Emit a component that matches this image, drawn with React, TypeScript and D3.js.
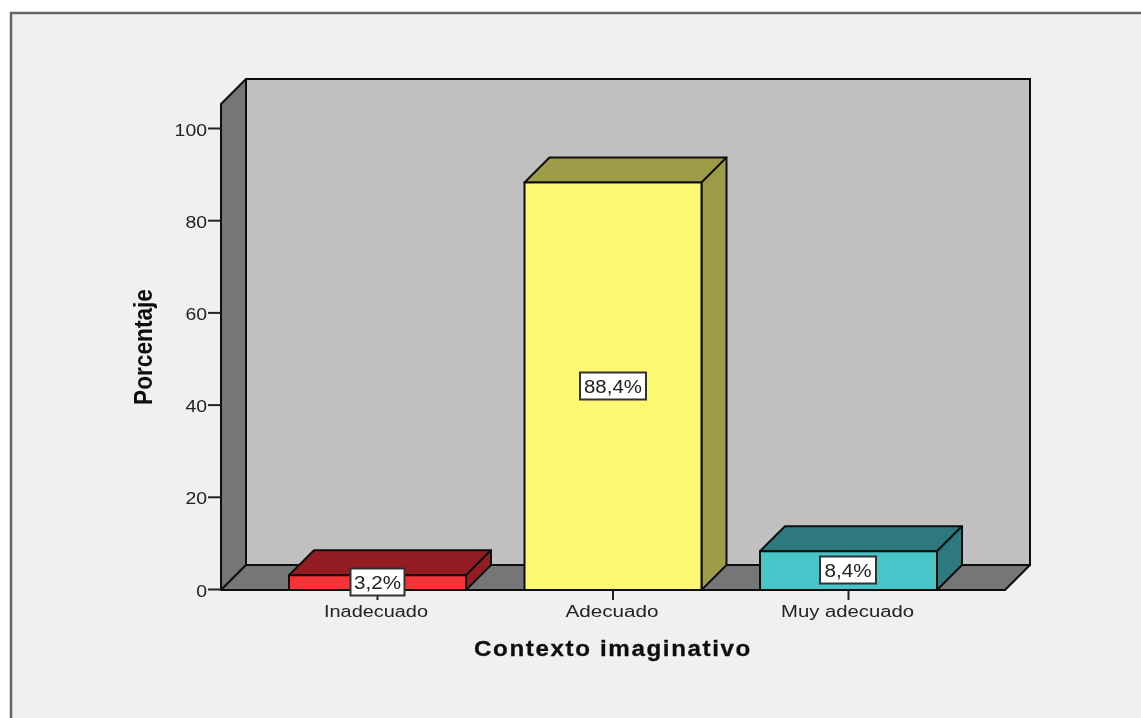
import React from "react";
import * as d3 from "d3";

const categories = ["Inadecuado", "Adecuado", "Muy adecuado"];
const percentages = [3.2, 88.4, 8.4];
const valueLabels = ["3,2%", "88,4%", "8,4%"];
const frontColors = ["#f43539", "#fcf872", "#48c4c8"];
const topColors = ["#921f23", "#9e9b48", "#2d797d"];
const yTicks = [0, 20, 40, 60, 80, 100];

const DX = 25;
const DY = 25;
const stroke = "#111111";
const font = "'Liberation Sans', Arial, sans-serif";

export default function App() {
  const y = d3.scaleLinear().domain([0, 100]).range([590, 129]);
  const x = d3.scalePoint<string>().domain(categories).range([377.5, 848.5]);
  const axisLeft = 221;
  const axisRight = 1005;
  const y0 = y(0);
  const yTop = 104;
  const poly = (pts: number[][]) => pts.map((p) => p.join(",")).join(" ");
  const barW = 177;
  const boxW = [54, 66, 56];
  const boxCx = [377.5, 613, 848];
  const boxCy = [582, 386, 570];
  const textW = [47, 58, 47];

  return (
    <svg width={1141} height={718} style={{ position: "absolute", left: 0, top: 0, display: "block" }}>
      <defs>
        <filter id="soft" x="0" y="0" width="100%" height="100%">
          <feGaussianBlur stdDeviation="0.6" />
        </filter>
      </defs>
      <g filter="url(#soft)">
        <rect x={0} y={0} width={1141} height={718} fill="#ffffff" />
        <rect x={11} y={13} width={1140} height={715} fill="#f0f0f0" stroke="#666666" strokeWidth={2.5} />
        {/* back wall */}
        <rect x={axisLeft + DX} y={yTop - DY} width={axisRight - axisLeft} height={y0 - yTop} fill="#c0c0c0" stroke={stroke} strokeWidth={2} />
        {/* left wall */}
        <polygon points={poly([[axisLeft, yTop], [axisLeft + DX, yTop - DY], [axisLeft + DX, y0 - DY], [axisLeft, y0]])} fill="#767676" stroke={stroke} strokeWidth={2} strokeLinejoin="round" />
        {/* floor */}
        <polygon points={poly([[axisLeft, y0], [axisLeft + DX, y0 - DY], [axisRight + DX, y0 - DY], [axisRight, y0]])} fill="#767676" stroke={stroke} strokeWidth={2} strokeLinejoin="round" />

        {/* y axis ticks */}
        {yTicks.map((t) => (
          <g key={t}>
            <line x1={208} x2={axisLeft} y1={y(t) - 0.5} y2={y(t) - 0.5} stroke="#222" strokeWidth={2} />
            <text x={207} y={y(t) + 6.5} textAnchor="end" fontFamily={font} fontSize={16} fill="#222"
              textLength={String(t).length * 10.8} lengthAdjust="spacingAndGlyphs">{t}</text>
          </g>
        ))}

        {/* x ticks */}
        {categories.map((cat) => (
          <line key={cat} x1={x(cat)} x2={x(cat)} y1={y0} y2={y0 + 10} stroke="#222" strokeWidth={2} />
        ))}

        {/* bars */}
        {categories.map((cat, i) => {
          const c = x(cat) as number;
          const l = c - barW / 2;
          const r = c + barW / 2;
          const t = y(percentages[i]);
          return (
            <g key={cat}>
              <polygon points={poly([[l, t], [l + DX, t - DY], [r + DX, t - DY], [r, t]])} fill={topColors[i]} stroke={stroke} strokeWidth={2} strokeLinejoin="round" />
              <polygon points={poly([[r, t], [r + DX, t - DY], [r + DX, y0 - DY], [r, y0]])} fill={topColors[i]} stroke={stroke} strokeWidth={2} strokeLinejoin="round" />
              <rect x={l} y={t} width={barW} height={y0 - t} fill={frontColors[i]} stroke={stroke} strokeWidth={2} />
            </g>
          );
        })}

        {/* value labels */}
        {categories.map((cat, i) => {
          const c = boxCx[i];
          const cy = boxCy[i];
          const w = boxW[i];
          return (
            <g key={cat}>
              <rect x={c - w / 2} y={cy - 13.5} width={w} height={27} fill="#ffffff" stroke="#333" strokeWidth={2} />
              <text x={c} y={cy + 6.5} textAnchor="middle" fontFamily={font} fontSize={18} fill="#222"
                textLength={textW[i]} lengthAdjust="spacingAndGlyphs">{valueLabels[i]}</text>
            </g>
          );
        })}

        {/* category labels */}
        {categories.map((cat, i) => (
          <text key={cat} x={[376, 612, 847.5][i]} y={617} textAnchor="middle" fontFamily={font} fontSize={16} fill="#222"
            textLength={[104, 93, 133][i]} lengthAdjust="spacingAndGlyphs">{cat}</text>
        ))}

        {/* axis titles */}
        <text x={613} y={656} textAnchor="middle" fontFamily={font} fontSize={22.5} fontWeight="bold" fill="#111"
          stroke="#111" strokeWidth={0.3} letterSpacing={1.5} textLength={278} lengthAdjust="spacingAndGlyphs">Contexto imaginativo</text>
        <text transform="translate(152,347) rotate(-90)" textAnchor="middle" fontFamily={font} fontSize={25} fontWeight="bold" fill="#111"
          textLength={116} lengthAdjust="spacingAndGlyphs">Porcentaje</text>
      </g>
    </svg>
  );
}
